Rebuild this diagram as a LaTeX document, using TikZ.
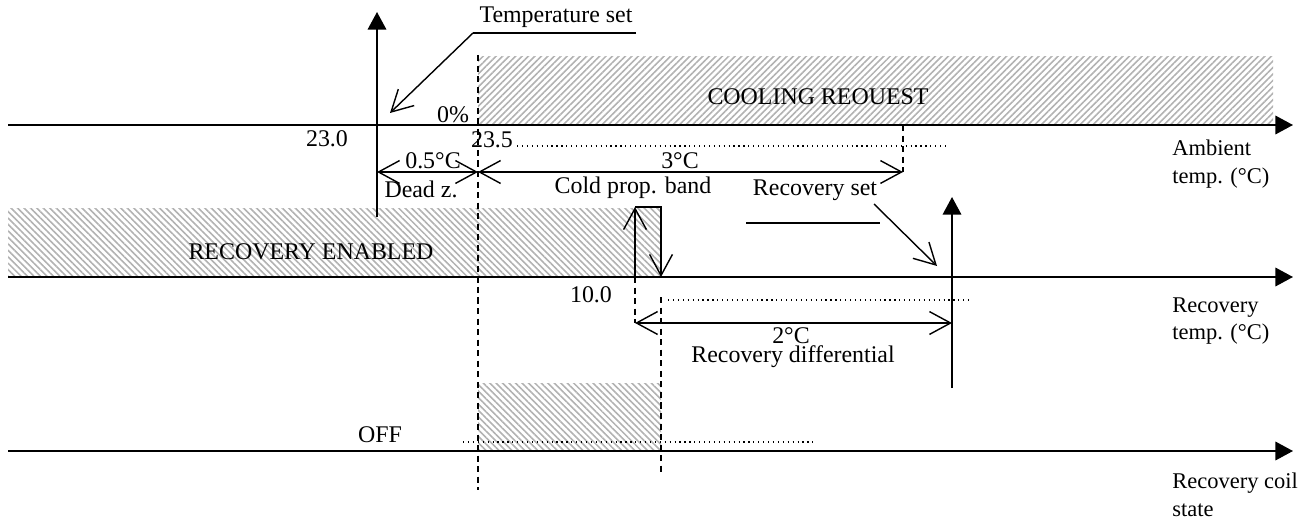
\documentclass[tikz,border=0pt]{standalone}
\usepackage{fontspec}
\setmainfont{Liberation Serif}
\usetikzlibrary{
    arrows.meta,
    patterns.meta,
    positioning
}

\tikzset{
    axis/.style={line width=1.1pt, -{Triangle[length=10pt,width=10.5pt]}},
    dimline/.style={line width=0.8pt, {Straight Barb[length=12pt,width=13pt]}-{Straight Barb[length=12pt,width=13pt]}},
    leader/.style={line width=0.8pt, -{Straight Barb[length=12pt,width=13pt]}},
    guide/.style={line width=0.8pt, dash pattern=on 3.5pt off 2.5pt},
    dots/.style={line width=0.7pt, dash pattern=on 0.7pt off 2.1pt},
    hatchup/.style={pattern={Lines[angle=45,distance=2.6pt,line width=0.9pt]}, pattern color=gray!60},
    hatchdown/.style={pattern={Lines[angle=-45,distance=2.6pt,line width=0.9pt]}, pattern color=gray!60},
    lbl/.style={inner sep=0pt, font=\fontsize{13.6}{15.8}\selectfont},
    axlbl/.style={inner sep=0pt, anchor=west, align=left, font=\fontsize{12.8}{15.6}\selectfont}
}

\begin{document}
\begin{tikzpicture}[x=0.02cm, y=-0.02cm]
    \useasboundingbox (0,0) rectangle (1310,520);

    % hatched zones
    \fill[hatchup] (478,57) rectangle (1273,125);
    \fill[hatchdown] (8,208) rectangle (661,277);
    \fill[hatchdown] (478,383) rectangle (661,451);

    % axes
    \coordinate (amb0) at (8,125);   \coordinate (amb1) at (1293,125);
    \coordinate (rt0) at (8,277);    \coordinate (rt1) at (1293,277);
    \coordinate (st0) at (8,451);    \coordinate (st1) at (1293,451);
    \coordinate (va0) at (377,217);  \coordinate (va1) at (377,12);
    \coordinate (vb0) at (952,388);  \coordinate (vb1) at (952,197);
    \draw[axis] (amb0) -- (amb1);
    \draw[axis] (rt0) -- (rt1);
    \draw[axis] (st0) -- (st1);
    \draw[axis] (va0) -- (va1);
    \draw[axis] (vb0) -- (vb1);

    % set points
    \coordinate (tset) at (377,172);
    \coordinate (cool) at (478,172);
    \coordinate (rset) at (903,172);
    \coordinate (bandl) at (635,323);
    \coordinate (bandr) at (661,297);
    \coordinate (rdiff) at (952,323);

    \draw[guide] (478,55) -- (478,490);
    \draw[guide] (bandr) -- (661,474);
    \draw[guide] (635,277) -- (bandl);
    \draw[guide] (903,125) -- (rset);

    \draw[dots] (517,146) -- (947,146);
    \draw[dots] (668,300) -- (972,300);
    \draw[dots] (463,442) -- (813,442);

    \draw[dimline] (tset) -- (cool);
    \draw[dimline] (cool) -- (rset);
    \draw[dimline] (bandl) -- (rdiff);

    % cold band step
    \coordinate (stepa) at (635,277);
    \coordinate (stepb) at (635,207);
    \coordinate (stepc) at (661,207);
    \coordinate (stepd) at (661,277);
    \draw[leader] (stepa) -- (stepb);
    \draw[leader] (stepb) -- (stepc) -- (stepd);

    % labels
    \node[lbl] (tsetlbl) at (556,17) {Temperature set};
    \coordinate (tsetu0) at (473,33);
    \coordinate (tsetu1) at (636,33);
    \coordinate (tsetp) at (390,113);
    \draw[line width=0.8pt] (tsetu1) -- (tsetu0);
    \draw[leader] (tsetu0) -- (tsetp);

    \node[lbl] (zero) at (453,115) {0\%};
    \node[lbl] (t230) at (327,139) {23.0};
    \node[lbl] (t235) at (492,140) {23.5};
    \node[lbl] (coolreq) at (818,97) {COOLING REOUEST};
    \node[lbl] (dead) at (433,161) {0.5°C};
    \node[lbl] (deadz) at (421,189) {Dead z.};
    \node[lbl] (band) at (680,161) {3°C};
    \node[lbl] (bandlbl) at (633,188) {Cold prop. band};
    \node[lbl] (rsetlbl) at (815,190) {Recovery set};
    \coordinate (rset0) at (874,204);
    \coordinate (rset1) at (937,266);
    \draw[leader] (rset0) -- (rset1);
    \coordinate (bar0) at (746,223);
    \coordinate (bar1) at (880,223);
    \draw[line width=0.8pt] (bar0) -- (bar1);

    \node[lbl] (recen) at (311,252) {RECOVERY ENABLED};
    \node[lbl] (t100) at (591,295) {10.0};
    \node[lbl] (diff) at (791,336) {2°C};
    \node[lbl] (difflbl) at (793,357) {Recovery differential};
    \node[lbl] (off) at (380,435) {OFF};

    \node[axlbl] (amblbl) at (1172,164) {Ambient\\temp. (°C)};
    \node[axlbl] (rtlbl) at (1172,321) {Recovery\\temp. (°C)};
    \node[axlbl] (stlbl) at (1172,495) {Recovery coil\\state};
\end{tikzpicture}
\end{document}
